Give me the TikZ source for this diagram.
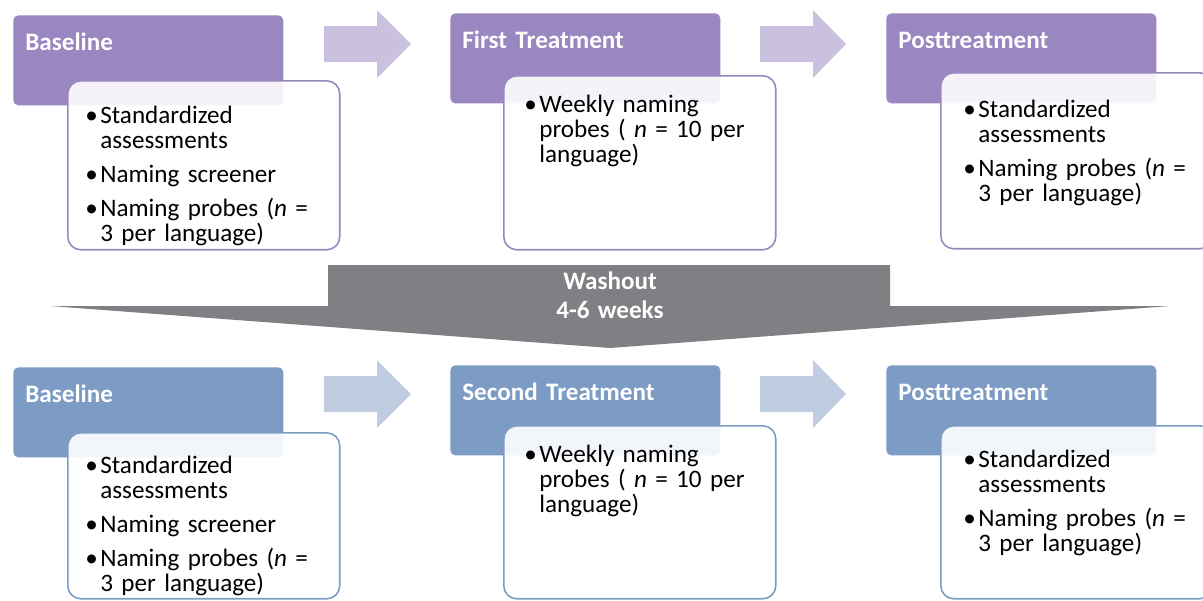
\documentclass[tikz,border=0pt]{standalone}
\usepackage{fontspec}
\setmainfont{Carlito}
\definecolor{lav}{RGB}{154,134,192}
\definecolor{lavlight}{RGB}{201,193,222}
\definecolor{steel}{RGB}{124,156,198}
\definecolor{steellight}{RGB}{192,205,224}
\definecolor{washgray}{RGB}{126,128,131}
\newcommand{\bulletmark}{\makebox[0.3cm][l]{\textbullet}}
\newcommand{\bulletindent}{\hspace*{0.3cm}}
\begin{document}
\begin{tikzpicture}[
                x=0.02cm, y=-0.02cm,
                hdr/.style={rectangle, rounded corners=0.1cm, anchor=north west, fill=#1,
                    inner xsep=0.24cm, inner ysep=0pt, text width=4.92cm, align=left,
                    text height=0.7cm, text depth=1.1cm, text=white,
                    font=\fontsize{14.3}{14.5}\selectfont\bfseries},
                cbox/.style={rectangle, rounded corners=0.26cm, anchor=north west, draw=#1,
                    line width=0.9pt, fill=white, fill opacity=0.9, minimum width=5.44cm, inner sep=0pt},
                btxt/.style={anchor=base west, inner sep=0pt, text width=5cm, align=left,
                    font=\fontsize{14.3}{14.5}\selectfont},
                wtxt/.style={anchor=base, inner sep=0pt, text width=4cm, align=center, text=white,
                    font=\fontsize{14.3}{16.5}\selectfont\bfseries}
            ]
            \clip (0,0) rectangle (1203,600);

            % first cycle
            \node[hdr=lav] (base1) at (13,15) {Baseline};
            \node[hdr=lav] (treat1) at (450,13) {First Treatment};
            \node[hdr=lav] (post1) at (886,13) {Posttreatment};
            \node[cbox=lav, minimum height=3.38cm] (basebox1) at (67,80) {};
            \node[cbox=lav, minimum height=3.48cm] (treatbox1) at (503,75) {};
            \node[cbox=lav, minimum height=3.52cm] (postbox1) at (940,72) {};
            \node[btxt] (basetxt1) at (85,123) {\bulletmark Standardized\\\bulletindent assessments\\[0.17cm]
                \bulletmark Naming screener\\[0.17cm]
                \bulletmark Naming probes (\textit{n} =\\\bulletindent 3 per language)};
            \node[btxt] (treattxt1) at (524,112) {\bulletmark Weekly naming\\\bulletindent probes ( \textit{n} = 10 per\\\bulletindent language)};
            \node[btxt] (posttxt1) at (963,117) {\bulletmark Standardized\\\bulletindent assessments\\[0.17cm]
                \bulletmark Naming probes (\textit{n} =\\\bulletindent 3 per language)};
            \fill[lavlight] (324,26) -- (377,26) -- (377,10) -- (411,44) -- (377,78) -- (377,62) -- (324,62) -- cycle;
            \fill[lavlight] (760,26) -- (813,26) -- (813,10) -- (846,44) -- (813,78) -- (813,62) -- (760,62) -- cycle;

            % washout
            \fill[washgray] (328,265) -- (890,265) -- (890,306) -- (1170,306) -- (610,348)
                -- (50,306) -- (328,306) -- cycle;
            \node[wtxt] (washout) at (610,289) {Washout\\4-6 weeks};

            % second cycle
            \node[hdr=steel] (base2) at (13,367) {Baseline};
            \node[hdr=steel] (treat2) at (450,365) {Second Treatment};
            \node[hdr=steel] (post2) at (886,365) {Posttreatment};
            \node[cbox=steel, minimum height=3.32cm] (basebox2) at (67,432) {};
            \node[cbox=steel, minimum height=3.46cm] (treatbox2) at (503,425) {};
            \node[cbox=steel, minimum height=3.46cm] (postbox2) at (940,425) {};
            \node[btxt] (basetxt2) at (85,473) {\bulletmark Standardized\\\bulletindent assessments\\[0.17cm]
                \bulletmark Naming screener\\[0.17cm]
                \bulletmark Naming probes (\textit{n} =\\\bulletindent 3 per language)};
            \node[btxt] (treattxt2) at (524,462) {\bulletmark Weekly naming\\\bulletindent probes ( \textit{n} = 10 per\\\bulletindent language)};
            \node[btxt] (posttxt2) at (963,467) {\bulletmark Standardized\\\bulletindent assessments\\[0.17cm]
                \bulletmark Naming probes (\textit{n} =\\\bulletindent 3 per language)};
            \fill[steellight] (324,376) -- (377,376) -- (377,360) -- (411,394) -- (377,428) -- (377,412) -- (324,412) -- cycle;
            \fill[steellight] (760,376) -- (813,376) -- (813,360) -- (846,394) -- (813,428) -- (813,412) -- (760,412) -- cycle;

        \end{tikzpicture}
\end{document}
